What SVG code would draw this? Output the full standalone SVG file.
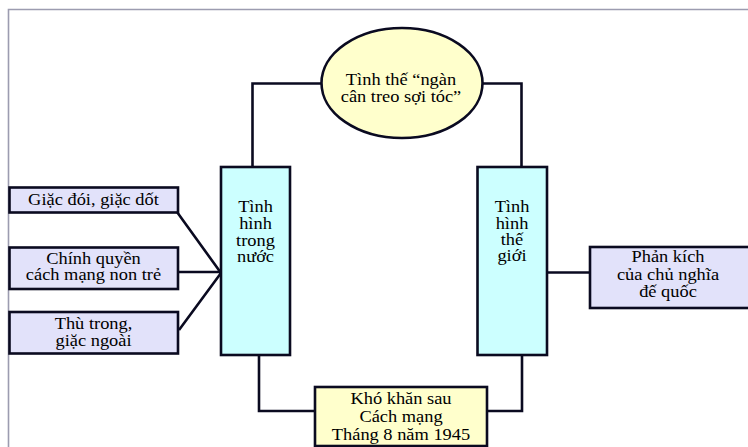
<svg xmlns="http://www.w3.org/2000/svg" width="748" height="447" viewBox="0 0 748 447">
<style>
.node{stroke:#0a0a20;stroke-width:2.6}
.lav{fill:#e2e2fa}
.cyan{fill:#ccffff}
.yel{fill:#ffffcc}
.conn{fill:none;stroke:#0a0a20;stroke-width:2.6;stroke-linejoin:miter}
text{font-family:"Liberation Serif","Times New Roman",serif;font-size:16px;fill:#000;text-anchor:middle}
</style>
<rect width="748" height="447" fill="#fff"/>
<path d="M8.5 447 V9.5 H748" fill="none" stroke="#9c9cb0" stroke-width="1.6"/>
<g id="connectors">
<path class="conn" d="M252.5 167 V83.5 H322"/>
<path class="conn" d="M482 83.5 H521.5 V167"/>
<path class="conn" d="M259 355 V411 H315"/>
<path class="conn" d="M487 411 H522 V355"/>
<path class="conn" d="M177 212 L221 273 M178 272 H221 M179 330 L221 273"/>
<path class="conn" d="M547 272.5 H590"/>
</g>
<g id="n-ellipse">
<ellipse class="node yel" cx="402" cy="83" rx="80.5" ry="55"/>
<text transform="matrix(1.15 0 0 1 401 0)"><tspan x="0" y="85">Tình thế “ngàn</tspan><tspan x="0" y="102.5">cân treo sợi tóc”</tspan></text>
</g>
<g id="n-trong-nuoc">
<rect class="node cyan" x="221" y="167" width="69" height="188"/>
<text transform="matrix(1.15 0 0 1 255.5 0)"><tspan x="0" y="212">Tình</tspan><tspan x="0" y="229">hình</tspan><tspan x="0" y="246">trong</tspan><tspan x="0" y="262.5">nước</tspan></text>
</g>
<g id="n-the-gioi">
<rect class="node cyan" x="477.5" y="167" width="69.5" height="188"/>
<text transform="matrix(1.15 0 0 1 512 0)"><tspan x="0" y="212">Tình</tspan><tspan x="0" y="229">hình</tspan><tspan x="0" y="245.5">thế</tspan><tspan x="0" y="261.5">giới</tspan></text>
</g>
<g id="n-kho-khan">
<rect class="node yel" x="315" y="387" width="172" height="59"/>
<text transform="matrix(1.15 0 0 1 401 0)"><tspan x="0" y="404">Khó khăn sau</tspan><tspan x="0" y="422.5">Cách mạng</tspan><tspan x="0" y="440">Tháng 8 năm 1945</tspan></text>
</g>
<g id="n-giac-doi">
<rect class="node lav" x="9.5" y="187.5" width="168.5" height="25"/>
<text transform="matrix(1.15 0 0 1 93.5 0)"><tspan x="0" y="205">Giặc đói, giặc dốt</tspan></text>
</g>
<g id="n-chinh-quyen">
<rect class="node lav" x="9.5" y="247.5" width="168.5" height="41.5"/>
<text transform="matrix(1.15 0 0 1 93.5 0)"><tspan x="0" y="264">Chính quyền</tspan><tspan x="0" y="280.5">cách mạng non trẻ</tspan></text>
</g>
<g id="n-thu-trong">
<rect class="node lav" x="9.5" y="312" width="168.5" height="41.5"/>
<text transform="matrix(1.15 0 0 1 93.5 0)"><tspan x="0" y="329">Thù trong,</tspan><tspan x="0" y="346.5">giặc ngoài</tspan></text>
</g>
<g id="n-phan-kich">
<rect class="node lav" x="590" y="247" width="170" height="61"/>
<text transform="matrix(1.15 0 0 1 668 0)"><tspan x="0" y="262">Phản kích</tspan><tspan x="0" y="280">của chủ nghĩa</tspan><tspan x="0" y="297.5">đế quốc</tspan></text>
</g>
</svg>
